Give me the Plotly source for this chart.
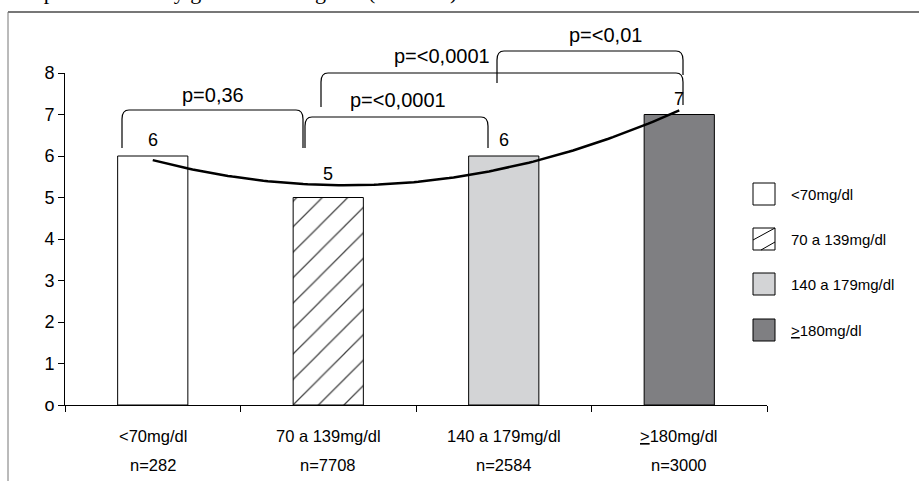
import numpy as np
import plotly.graph_objects as go

# ---- data ----
categories = ["&lt;70mg/dl", "70 a 139mg/dl", "140 a 179mg/dl", "<u>&gt;</u>180mg/dl"]
n_labels = ["n=282", "n=7708", "n=2584", "n=3000"]
values = [6, 5, 6, 7]
y_ticks = [0, 1, 2, 3, 4, 5, 6, 7, 8]
y_ticktext = ["o", "1", "2", "3", "4", "5", "6", "7", "8"]
comparisons = [  # (from category, to category, label)
    (0, 1, "p=0,36"),
    (1, 2, "p=&lt;0,0001"),
    (1, 3, "p=&lt;0,0001"),
    (2, 3, "p=&lt;0,01"),
]

# ---- style ----
bar_colors = ["#ffffff", "#ffffff", "#d3d4d6", "#7f7f82"]
bar_patterns = ["", "/", "", ""]
FONT = "Liberation Sans, Arial, sans-serif"
W_PX, H_PX = 919, 481
L, R, T, B = 65, 767, 73, 405


def px(xp):
    return (xp - L) / (R - L)


def py(yp):
    return (B - yp) / (B - T)


x = np.arange(len(values))
coef = np.polyfit(x, values, 2)
xs = np.linspace(0, len(values) - 1, 120)
ys = np.polyval(coef, xs)

fig = go.Figure()
fig.add_trace(go.Bar(
    x=x, y=values, width=0.4,
    marker=dict(color=bar_colors, line=dict(color="black", width=1),
                pattern=dict(shape=bar_patterns, fgcolor="black", fgopacity=1,
                             size=18, solidity=0.07, fillmode="overlay")),
    showlegend=False, hoverinfo="skip"))
fig.add_trace(go.Scatter(x=xs, y=ys, mode="lines",
                         line=dict(color="black", width=2.5),
                         showlegend=False, hoverinfo="skip"))
fig.add_trace(go.Scatter(x=[], y=[], xaxis="x2", showlegend=False))

annotations = []
shapes = []

# value labels
yshifts = [16, 24, 16, 16]
for i, v in enumerate(values):
    annotations.append(dict(x=i, y=v, xref="x", yref="y", text=str(v),
                            showarrow=False, yanchor="middle", yshift=yshifts[i],
                            font=dict(size=18, color="black", family=FONT)))
# category labels
for i, (c, n) in enumerate(zip(categories, n_labels)):
    annotations.append(dict(x=i, y=0, xref="x", yref="paper", text=c, showarrow=False,
                            yanchor="middle", yshift=-31,
                            font=dict(size=16.5, color="black", family=FONT)))
    annotations.append(dict(x=i, y=0, xref="x", yref="paper", text=n, showarrow=False,
                            yanchor="middle", yshift=-60,
                            font=dict(size=16.5, color="black", family=FONT)))

# brackets (pixel geometry)
brackets = [
    # left x, right x, top y, left bottom, right bottom, text x, text y
    (122, 303, 110, 148, 148, 213, 95),
    (305, 488, 117, 148, 148, 398, 100),
    (321, 683, 73, 107, 105, 442, 56),
    (497, 683, 51, 83, 75, 605, 35),
]


def bracket_path(xl, xr, yt, ybl, ybr, rx=7, ry=9):
    pts = []
    pts.append(f"M{px(xl)},{py(ybl)}")
    pts.append(f"L{px(xl)},{py(yt + ry)}")
    pts.append(f"Q{px(xl)},{py(yt)} {px(xl + rx)},{py(yt)}")
    pts.append(f"L{px(xr - rx)},{py(yt)}")
    pts.append(f"Q{px(xr)},{py(yt)} {px(xr)},{py(yt + ry)}")
    pts.append(f"L{px(xr)},{py(ybr)}")
    return " ".join(pts)


for (xl, xr, yt, ybl, ybr, tx, ty), (_, _, lab) in zip(brackets, comparisons):
    shapes.append(dict(type="path", xref="paper", yref="paper",
                       path=bracket_path(xl, xr, yt, ybl, ybr),
                       line=dict(color="black", width=1.2)))
    annotations.append(dict(x=px(tx), y=py(ty), xref="paper", yref="paper", text=lab,
                            showarrow=False, xanchor="center", yanchor="middle",
                            font=dict(size=20, color="black", family=FONT)))

# manual legend
leg_centers = [194, 239, 284, 330]
bs = 22
for i, (c, col) in enumerate(zip(categories, bar_colors)):
    cy = leg_centers[i]
    x0, x1 = 753, 753 + bs
    y0, y1 = cy - bs / 2, cy + bs / 2
    shapes.append(dict(type="rect", xref="paper", yref="paper",
                       x0=px(x0), x1=px(x1), y0=py(y1), y1=py(y0),
                       fillcolor=col, line=dict(color="black", width=1)))
    if bar_patterns[i] == "/":
        shapes.append(dict(type="line", xref="paper", yref="paper",
                           x0=px(x0), y0=py(y0 + 12), x1=px(x1), y1=py(y0),
                           line=dict(color="black", width=1)))
        shapes.append(dict(type="line", xref="paper", yref="paper",
                           x0=px(x0 + 8), y0=py(y1), x1=px(x1), y1=py(y1 - 8),
                           line=dict(color="black", width=1)))
    annotations.append(dict(x=px(789), y=py(cy), xref="paper", yref="paper", text=c,
                            showarrow=False, xanchor="left", yanchor="middle",
                            font=dict(size=15, color="black", family=FONT)))

# outer frame (partial)
shapes.append(dict(type="line", xref="paper", yref="paper",
                   x0=px(8), x1=px(925), y0=py(12), y1=py(12),
                   line=dict(color="#777777", width=2)))
shapes.append(dict(type="line", xref="paper", yref="paper",
                   x0=px(8), x1=px(8), y0=py(12), y1=py(490),
                   line=dict(color="#777777", width=1)))

# clipped title fragment at the very top
annotations.append(dict(x=px(-4), y=py(6), xref="paper", yref="paper",
                        text="Tiempo de estancia y glucemia al ingreso (mediana)",
                        showarrow=False, xanchor="left", yanchor="bottom",
                        font=dict(size=22, color="black",
                                  family="Liberation Serif, Times New Roman, serif")))

fig.update_layout(
    width=W_PX, height=H_PX,
    margin=dict(l=L, r=W_PX - R, t=T, b=H_PX - B, pad=0),
    paper_bgcolor="white", plot_bgcolor="white",
    font=dict(family=FONT, color="black"),
    xaxis=dict(range=[-0.5, 3.5], showgrid=False, zeroline=False, showline=True,
               linecolor="black", linewidth=1, ticks="", showticklabels=False,
               fixedrange=True),
    xaxis2=dict(range=[-0.5, 3.5], overlaying="x", anchor="y", side="bottom",
                showgrid=False, zeroline=False, showline=False,
                tickvals=[-0.5, 0.5, 1.5, 2.5, 3.5], ticks="outside", ticklen=6,
                tickcolor="black", showticklabels=False),
    yaxis=dict(range=[0, 8], showgrid=False, zeroline=False, showline=True,
               linecolor="black", linewidth=1, ticks="outside", ticklen=6,
               tickcolor="black", tickvals=y_ticks, ticktext=y_ticktext,
               tickfont=dict(size=18, family=FONT, color="black"), fixedrange=True),
    annotations=annotations, shapes=shapes, bargap=0.6,
)

fig.write_html("out.html", config={"displayModeBar": False},
               post_script="document.body.style.margin='0';document.body.style.overflow='hidden';")
